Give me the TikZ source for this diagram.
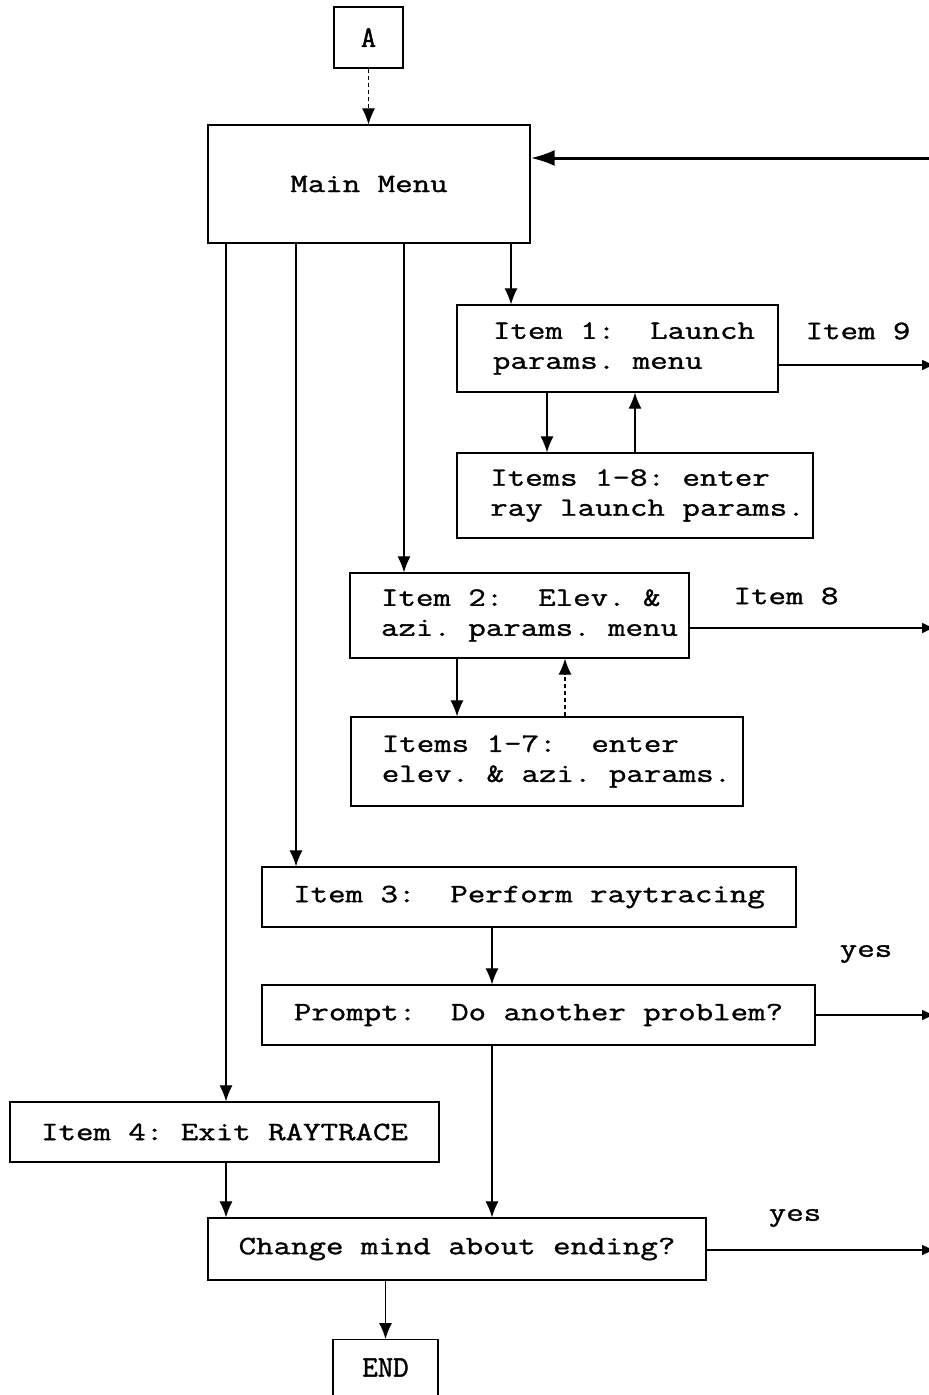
\documentclass[tikz,border=0pt]{standalone}
\usepackage{fontspec}
\newfontfamily\dfont{Latin Modern Mono}[FakeStretch=1.28,FakeBold=1.2]
\newfontfamily\afont{Latin Modern Mono}[FakeBold=1.5]
\usetikzlibrary{arrows.meta}
\begin{document}
\begin{tikzpicture}[x=1pt,y=-1pt,
  every node/.style={inner sep=0pt},
  txt/.style={font=\dfont\fontsize{26.5}{30}\selectfont\frenchspacing},
  bx/.style={txt, draw, line width=1.3pt},
  bl/.style={bx, align=left},
  big/.style={font=\afont\fontsize{30}{30}\selectfont},
  conn/.style={line width=1.1pt, -{Latex[length=16pt,width=13pt]}},
  dconn/.style={conn, dash pattern=on 4pt off 3pt},
  fat/.style={line width=2.8pt, -{Latex[length=14pt,width=11pt]}},
  lbl/.style={txt}
]
\useasboundingbox (0,0) rectangle (929,1395);

% boxes
\node[bx, big, minimum width=69pt, minimum height=61pt] (A) at (368.5,37.5) {A};
\node[bx, minimum width=322pt, minimum height=118pt] (main) at (369,184) {Main Menu};
\node[bl, minimum width=321pt, minimum height=87pt] (i1) at (617.5,348.5)
  {\hspace*{13pt}Item 1:\ \ Launch\\\hspace*{13pt}params. menu};
\node[bl, minimum width=356pt, minimum height=85pt] (i18) at (635,495.5)
  {\hspace*{25pt}Items 1-8: enter\\\hspace*{25pt}ray launch params.};
\node[bl, minimum width=339pt, minimum height=85pt] (i2) at (519.5,615.5)
  {\hspace*{20pt}Item 2:\ \ Elev. \&\\\hspace*{20pt}azi. params. menu};
\node[bl, minimum width=392pt, minimum height=89pt] (i17) at (547,761.5)
  {\hspace*{19pt}Items 1-7:\ \ enter\\\hspace*{19pt}elev. \& azi. params.};
\node[bx, minimum width=534pt, minimum height=60pt] (i3) at (529,897) {Item 3:\ \ Perform raytracing};
\node[bx, minimum width=553pt, minimum height=60pt] (prompt) at (538.5,1015) {Prompt:\ \ Do another problem?};
\node[bx, minimum width=429pt, minimum height=60pt] (i4) at (224.5,1132) {Item 4: Exit RAYTRACE};
\node[bx, minimum width=498pt, minimum height=62pt] (change) at (457,1249) {Change mind about ending?};
\node[bx, big, minimum width=105pt, text height=37pt, text depth=80pt, anchor=north] (endb) at (385.5,1339) {END};

% labels
\node[lbl] (l9) at (858,331) {Item 9};
\node[lbl] (l8) at (786,596) {Item 8};
\node[lbl] (y1) at (866,954) {yes};
\node[lbl] (y2) at (795,1218) {yes};

% vertical connectors
\draw[dconn, line width=0.8pt] (A.south) -- (A.south |- main.north);
\draw[conn] (main.south -| 511,0) -- (i1.north -| 511,0);
\draw[conn] (main.south -| 404,0) -- (i2.north -| 404,0);
\draw[conn] (main.south -| 296,0) -- (i3.north -| 296,0);
\draw[conn] (main.south -| 226,0) -- (i4.north -| 226,0);
\draw[conn] (i1.south -| 547,0) -- (i18.north -| 547,0);
\draw[conn] (i18.north -| 635,0) -- (i1.south -| 635,0);
\draw[conn] (i2.south -| 457,0) -- (i17.north -| 457,0);
\draw[dconn] (i17.north -| 565,0) -- (i2.south -| 565,0);
\draw[conn] (i3.south -| 492,0) -- (prompt.north -| 492,0);
\draw[conn] (prompt.south -| 492,0) -- (change.north -| 492,0);
\draw[conn] (i4.south -| 226,0) -- (change.north -| 226,0);
\draw[conn] (change.south -| endb.north) -- (endb.north);

% right-edge connectors
\coordinate (e0) at (940,158);
\coordinate (e1) at (936,365);
\coordinate (e2) at (936,628);
\coordinate (e3) at (936,1015);
\coordinate (e4) at (936,1250);
\draw[line width=3pt, -{Latex[length=24pt,width=16pt]}] (e0) -- (main.east |- e0);
\draw[fat] (i1.east |- e1) -- (e1);
\draw[fat] (i2.east |- e2) -- (e2);
\draw[fat] (prompt.east |- e3) -- (e3);
\draw[fat] (change.east |- e4) -- (e4);
\end{tikzpicture}
\end{document}
